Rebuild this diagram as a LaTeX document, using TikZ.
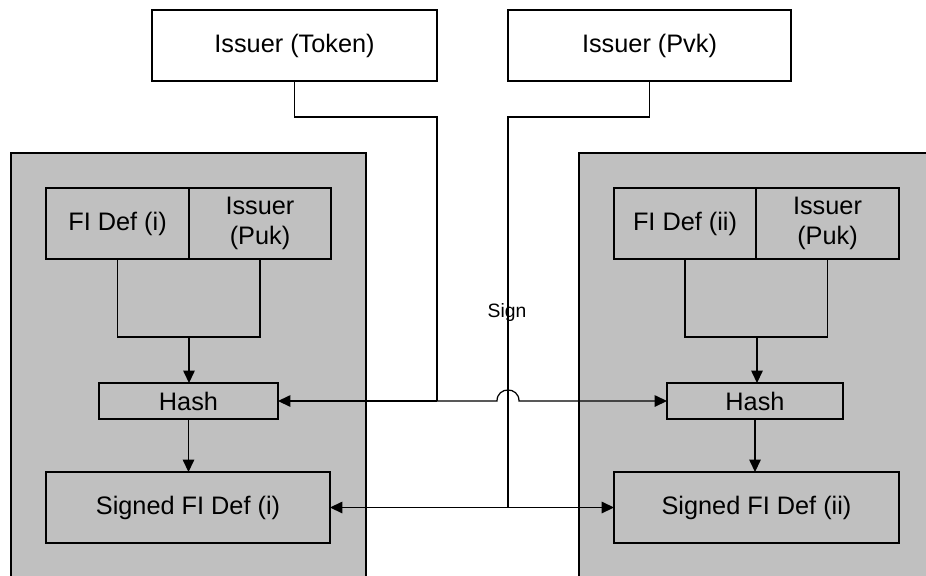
\documentclass[tikz,border=0pt]{standalone}
\usepackage{fontspec}
\setmainfont{Liberation Sans}
\usetikzlibrary{arrows.meta, positioning}
\definecolor{panelGrey}{RGB}{192, 192, 192}

\begin{document}
\begin{tikzpicture}[x=0.02cm, y=-0.02cm, line width=0.7pt, node distance=0pt]
    \tikzstyle{box} = [rectangle, draw=black, inner sep=0pt, outer sep=0pt, minimum height=1.42cm, align=center, font=\fontsize{14.4}{17}\selectfont]
    \tikzstyle{hashbox} = [box, minimum height=0.72cm]
    \tikzstyle{arrow} = [-{Triangle[length=7pt, width=6.5pt]}]

    \useasboundingbox (0,0) rectangle (926,575);

    % the two holders
    \fill[panelGrey] (11,153) rectangle (366,577);
    \draw (11,577) |- (366,153) -- (366,577);
    \fill[panelGrey] (579,153) rectangle (930,577);
    \draw (579,577) |- (930,153);

    % issuer side
    \node[box, fill=white, minimum width=5.7cm] (token) at (294.5,45.5) {Issuer (Token)};
    \node[box, fill=white, minimum width=5.66cm] (pvk) at (649.5,45.5) {Issuer (Pvk)};

    % left holder
    \node[box, fill=panelGrey, minimum width=2.86cm] (fidef1) at (117.5,223.5) {FI Def (i)};
    \node[box, fill=panelGrey, minimum width=2.84cm, right=of fidef1] (puk1) {Issuer\\(Puk)};
    \node[hashbox, fill=panelGrey, minimum width=3.58cm] (hash1) at (188.5,401) {Hash};
    \node[box, fill=panelGrey, minimum width=5.68cm] (signed1) at (188,507.5) {Signed FI Def (i)};

    % right holder
    \node[box, fill=panelGrey, minimum width=2.84cm] (fidef2) at (685,223.5) {FI Def (ii)};
    \node[box, fill=panelGrey, minimum width=2.86cm, right=of fidef2] (puk2) {Issuer\\(Puk)};
    \node[hashbox, fill=panelGrey, minimum width=3.52cm] (hash2) at (755,401) {Hash};
    \node[box, fill=panelGrey, minimum width=5.7cm] (signed2) at (756.5,507.5) {Signed FI Def (ii)};

    \node[font=\fontsize{11}{13}\selectfont, inner sep=0pt] (sign) at (507,312.5) {Sign};

    \coordinate (join1) at (189,337);
    \coordinate (join2) at (757,337);
    \coordinate (tokbend) at (437,117);
    \coordinate (tokjoin) at (437,401);
    \coordinate (pvkbend) at (508,117);
    \coordinate (pvkjoin) at (pvkbend |- signed1.east);
    \coordinate (jumpL) at (497,401);
    \coordinate (jumpR) at (519,401);

    \draw (fidef1.south) |- (join1) -| (puk1.south);
    \draw[arrow] (join1) -- (join1 |- hash1.north);
    \draw[arrow] (hash1.south) -- (hash1.south |- signed1.north);

    \draw (fidef2.south) |- (join2) -| (puk2.south);
    \draw[arrow] (join2) -- (join2 |- hash2.north);
    \draw[arrow] (hash2.south) -- (hash2.south |- signed2.north);

    \draw (token.south) |- (tokbend) -- (tokjoin);
    \draw[arrow] (tokjoin) -- (hash1.east);
    \draw[arrow] (tokjoin) -- (jumpL) .. controls (497,386.3) and (519,386.3) .. (jumpR) -- (hash2.west);

    \draw (pvk.south) |- (pvkbend) -- (pvkjoin);
    \draw[arrow] (pvkjoin) -- (signed1.east);
    \draw[arrow] (pvkjoin) -- (signed2.west);
\end{tikzpicture}
\end{document}
